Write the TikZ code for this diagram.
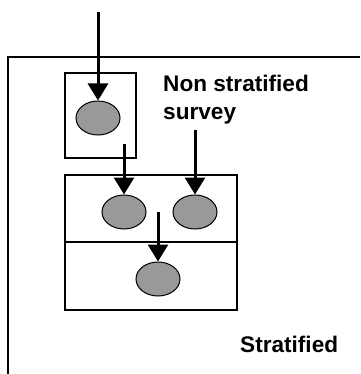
\documentclass[tikz,border=0pt]{standalone}
\usepackage{fontspec}
\setmainfont{Liberation Sans}
\usetikzlibrary{arrows.meta,shapes.geometric}
\definecolor{ovalgray}{RGB}{153,153,153}
\begin{document}
\begin{tikzpicture}[x=1pt,y=-1pt,
  oval/.style={ellipse,draw=black,line width=1pt,fill=ovalgray,minimum width=44pt,minimum height=34pt,inner sep=0pt},
  frame/.style={draw=black,line width=2pt},
  flow/.style={line width=3pt,-{Triangle[width=20pt,length=17pt]}},
  lbl/.style={font=\bfseries\fontsize{22.6}{26}\selectfont,anchor=base west,inner sep=0pt}]
\useasboundingbox (0,0) rectangle (360,374);
% outer stratified frame (top and left edges visible)
\draw[frame] (360,57) -- (8,57) -- (8,374);
% boxes
\draw[frame] (65,73) rectangle (136,158);
\draw[frame] (65,175) rectangle (237,242);
\draw[frame] (65,242) rectangle (237,310);
% ovals
\node[oval] (e1) at (98,118) {};
\node[oval] (e2) at (124,212) {};
\node[oval] (e3) at (195,212) {};
\node[oval] (e4) at (158,279) {};
% arrow starts
\coordinate (s1) at (98,12);
\coordinate (s2) at (124,144);
\coordinate (s3) at (195,130);
\coordinate (s4) at (158,212);
\draw[flow] (s1) -- (e1.north);
\draw[flow] (s2) -- (e2.north);
\draw[flow] (s3) -- (e3.north);
\draw[flow] (s4) -- (e4.north);
% labels
\node[lbl] (t1) at (163,92) {Non stratified};
\node[lbl] (t2) at (163,120) {survey};
\node[lbl] (t3) at (240,352) {Stratified};
\end{tikzpicture}
\end{document}
